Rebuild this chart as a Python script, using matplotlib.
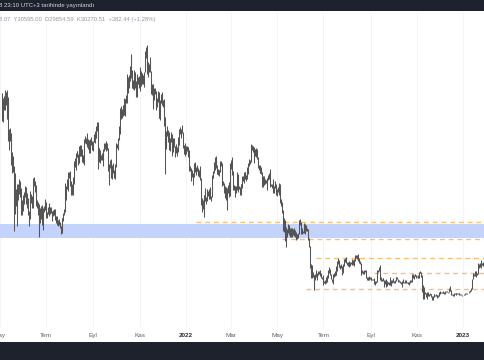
import pandas as pd
import matplotlib.pyplot as plt
from matplotlib.patches import Rectangle

# daily BTC high / low in thousand USD, one list per month
may21 = [(58.9,56.5),(57.3,53.0),(57.9,52.9),(58.3,55.3),(58.6,55.4),(59.5,56.9),(59.2,56.3),(59.6,53.4),(56.9,54.4),(58.0,48.8),
         (51.4,46.9),(51.5,48.8),(50.6,46.6),(49.8,43.8),(46.6,42.1),(45.8,42.3),(43.5,30.0),(42.5,35.0),(42.2,33.5),(38.8,35.3),
         (38.3,31.1),(39.9,34.0),(39.8,36.4),(40.8,37.8),(40.4,37.2),(38.9,34.7),(37.3,33.4),(36.4,33.4),(37.5,34.2)]
jun21 = [(37.9,35.7),(38.2,35.9),(39.5,37.2),(39.2,35.6),(37.9,34.8),(36.4,35.3),(36.8,33.4),(34.1,31.0),(37.5,32.4),(38.4,35.8),
         (37.7,35.9),(37.4,34.7),(39.3,34.8),(41.0,38.8),(41.3,39.5),(40.5,38.1),(39.6,37.4),(38.2,35.2),(36.4,34.9),(36.1,33.4),
         (35.7,31.3),(33.3,28.8),(34.8,31.7),(35.2,32.4),(35.5,31.3),(32.7,30.2),(34.7,32.0),(35.3,33.9),(36.6,34.3),(36.0,34.0)]
jul21 = [(35.0,32.8),(33.9,32.7),(35.0,33.6),(35.9,34.5),(35.3,33.2),(35.1,33.6),(35.0,33.8),(33.9,32.1),(34.1,32.3),(34.3,33.1),
         (34.6,33.4),(34.6,32.7),(33.3,32.3),(33.1,31.6),(33.2,31.2),(32.2,31.1),(31.9,31.2),(32.4,31.2),(31.9,30.5),(31.0,29.3),
         (32.8,29.5),(32.6,31.7),(33.7,32.0),(34.5,33.4),(35.4,33.9),(40.0,35.3),(39.5,36.4),(40.9,38.8),(40.6,39.3),(42.3,38.3),
         (42.4,41.1)]
aug21 = [(42.6,39.5),(40.4,38.7),(39.8,37.6),(39.9,37.6),(41.4,37.5),(43.0,39.9),(44.7,42.5),(45.3,43.4),(46.4,42.8),(46.7,45.4),
         (46.7,45.4),(46.2,43.8),(47.9,44.3),(48.1,45.8),(47.4,45.6),(48.0,45.7),(47.1,44.4),(45.9,44.3),(47.0,43.9),(49.3,46.7),
         (49.8,48.4),(49.5,48.2),(50.5,49.1),(49.8,47.6),(49.3,47.2),(49.0,46.4),(49.1,46.4),(49.3,48.4),(49.6,48.1),(48.9,46.9),
         (48.2,46.7)]
sep21 = [(48.9,46.9),(50.4,48.6),(51.0,48.5),(50.6,49.5),(51.9,49.5),(52.9,50.9),(52.8,43.0),(47.3,44.5),(47.4,45.5),(47.0,44.2),
         (45.9,44.8),(46.4,44.8),(46.8,43.6),(47.2,44.8),(48.4,46.8),(48.5,47.1),(48.1,46.8),(48.8,47.1),(48.4,46.9),(47.3,42.6),
         (43.6,39.6),(44.0,40.6),(44.9,43.1),(45.0,41.0),(42.9,41.7),(43.9,40.8),(44.3,42.1),(42.7,41.0),(42.6,40.8),(44.1,41.4)]
oct21 = [(48.4,43.3),(48.3,47.4),(49.2,47.1),(49.5,46.9),(51.9,49.0),(55.8,50.4),(55.3,53.4),(56.1,53.6),(55.5,53.7),(56.4,54.1),
         (57.8,54.4),(57.6,54.0),(57.7,54.3),(58.4,56.9),(62.8,56.9),(62.3,60.2),(61.7,58.9),(62.6,60.0),(64.5,61.4),(67.0,63.5),
         (66.6,62.0),(63.7,60.0),(61.7,59.7),(61.4,59.6),(63.7,60.7),(63.3,60.0),(61.4,58.1),(62.5,58.0),(62.9,60.2),(62.3,60.7),
         (62.4,60.0)]
nov21 = [(62.4,59.4),(64.3,60.8),(63.5,60.4),(63.1,60.7),(62.6,60.8),(61.6,60.1),(63.3,61.4),(67.8,63.3),(68.5,66.3),(69.0,62.8),
         (65.6,64.1),(65.5,62.3),(65.0,63.4),(65.5,63.6),(66.4,63.4),(63.6,58.6),(60.8,58.4),(60.9,56.5),(58.4,55.6),(59.9,57.5),
         (60.0,58.6),(59.3,55.7),(57.9,55.4),(57.8,55.9),(59.4,57.0),(59.2,53.6),(55.3,53.7),(57.4,53.3),(58.8,56.8),(59.2,56.5)]
dec21 = [(59.0,56.5),(57.4,55.9),(57.6,52.0),(53.9,42.0),(49.7,47.8),(50.9,47.1),(51.9,50.0),(51.2,48.6),(50.8,47.3),(50.0,47.0),
         (49.5,46.8),(50.8,48.6),(50.3,45.7),(48.7,46.3),(49.5,46.5),(49.4,47.6),(47.9,45.5),(47.4,45.9),(48.3,46.4),(47.5,45.6),
         (49.3,46.6),(49.6,48.4),(51.4,48.1),(51.8,50.4),(51.2,50.2),(51.3,49.5),(52.1,50.5),(50.7,47.3),(48.1,46.1),(47.9,46.0),
         (48.5,45.7)]
jan22 = [(47.8,46.2),(47.9,46.7),(47.5,45.7),(47.5,45.5),(47.0,42.5),(43.7,42.5),(43.1,40.6),(42.3,40.5),(42.8,41.2),(42.2,39.7),
         (43.0,41.3),(44.3,42.5),(44.4,42.3),(43.4,41.8),(43.8,42.6),(43.5,42.6),(43.2,41.6),(42.7,41.3),(42.6,41.2),(43.5,40.6),
         (41.1,35.5),(36.8,34.0),(36.5,34.6),(37.5,33.0),(37.5,36.2),(38.9,36.3),(37.2,35.6),(38.0,36.2),(38.7,37.4),(38.4,37.4),
         (38.7,36.6)]
feb22 = [(39.3,38.2),(38.9,36.6),(37.4,36.3),(41.7,37.0),(42.0,41.1),(42.6,41.1),(44.4,42.1),(45.5,42.7),(44.8,43.1),(45.8,43.3),
         (43.9,42.0),(43.0,41.8),(42.7,41.9),(42.8,41.6),(44.7,42.4),(44.6,43.5),(44.2,40.1),(40.9,39.5),(40.4,39.7),(40.1,38.0),
         (39.5,36.8),(38.4,36.4),(39.2,37.0),(38.9,34.3),(39.7,38.0),(40.3,38.6),(39.9,37.0),(44.2,37.4)]
mar22 = [(44.9,42.9),(45.4,43.3),(44.1,41.8),(42.5,38.6),(39.6,38.6),(39.4,38.1),(39.5,37.2),(39.4,37.9),(42.4,38.6),(42.0,38.6),
         (40.2,38.2),(39.4,38.7),(39.3,37.6),(39.9,37.6),(39.9,38.1),(41.5,38.9),(41.5,40.5),(42.3,40.1),(42.4,41.5),(42.3,40.9),
         (41.7,40.5),(43.4,40.9),(43.0,41.9),(44.2,42.6),(45.0,43.6),(44.8,44.1),(46.9,44.4),(48.2,46.6),(48.1,46.9),(47.7,46.6),
         (47.6,45.2)]
apr22 = [(46.7,44.2),(47.2,45.6),(47.4,45.5),(46.9,45.1),(47.2,45.4),(45.5,43.1),(43.9,42.8),(43.9,42.1),(42.8,42.1),(43.4,42.0),
         (42.4,39.2),(40.7,39.3),(41.5,39.6),(41.5,39.6),(40.9,39.8),(40.7,40.0),(40.6,39.6),(41.1,38.6),(41.7,40.6),(42.2,40.9),
         (43.0,39.8),(40.8,39.2),(39.9,39.4),(39.8,39.0),(40.6,38.2),(40.8,37.9),(39.5,37.9),(40.4,38.9),(39.9,38.2),(38.8,37.6)]
may22 = [(38.7,37.4),(39.2,38.1),(38.7,37.5),(40.0,37.7),(39.8,35.8),(36.7,35.3),(36.1,34.8),(35.5,33.7),(34.3,30.0),(32.6,29.8),
         (32.2,27.8),(30.1,26.7),(30.9,28.8),(30.3,28.7),(31.4,29.5),(31.3,29.2),(31.0,29.5),(30.6,28.7),(30.5,28.7),(30.7,28.8),
         (29.6,29.0),(30.4,29.2),(30.6,29.0),(29.8,28.7),(30.2,29.3),(29.8,28.0),(29.4,28.3),(29.2,28.5),(29.5,28.8),(32.2,29.3),
         (32.4,31.2)]
jun22 = [(31.9,29.4),(30.6,29.6),(30.7,29.4),(29.9,29.5),(30.1,29.5),(31.7,29.9),(31.5,29.3),(31.3,29.9),(30.6,29.9),(30.3,28.9),
         (29.4,28.1),(28.5,26.6),(26.9,22.3),(23.0,20.9),(22.8,20.1),(22.9,20.2),(21.3,20.3),(20.8,17.6),(20.8,18.0),(21.0,19.7),
         (21.7,20.4),(20.9,19.8),(21.2,19.9),(21.5,20.8),(21.6,20.9),(21.8,21.0),(21.5,20.5),(21.2,20.2),(20.4,19.9),(20.1,18.6)]
jul22 = [(20.8,19.0),(19.4,19.0),(19.6,18.9),(20.3,19.1),(20.7,19.3),(20.6,19.8),(21.8,20.2),(22.4,21.2),(21.9,21.3),(21.6,20.7),
         (20.9,19.9),(20.0,19.2),(20.3,18.9),(20.9,19.6),(21.2,20.4),(21.6,20.5),(21.6,20.8),(22.7,20.8),(23.7,21.6),(24.3,23.0),
         (23.4,22.4),(23.8,22.5),(22.9,21.9),(23.0,22.3),(22.7,21.3),(21.3,20.7),(23.1,21.1),(24.2,22.6),(24.4,23.5),(24.6,23.5),
         (24.2,23.2)]
aug22 = [(23.5,22.9),(23.4,22.7),(23.6,22.7),(23.2,22.4),(23.4,22.6),(23.4,23.1),(23.4,22.9),(24.2,23.2),(23.9,22.9),(24.2,22.7),
         (24.9,23.9),(24.4,23.6),(24.9,24.3),(25.0,24.2),(25.2,23.8),(24.2,23.7),(24.4,23.2),(23.6,23.1),(23.2,20.8),(21.4,20.8),
         (21.7,21.1),(21.5,20.9),(21.6,20.9),(21.8,21.1),(21.8,21.3),(21.8,20.1),(20.3,19.8),(20.1,19.6),(20.4,19.6),(20.6,19.6),
         (20.4,19.9)]
sep22 = [(20.2,19.6),(20.4,19.8),(19.9,19.7),(20.0,19.6),(20.0,19.6),(20.2,18.8),(19.4,18.6),(19.5,19.1),(21.5,19.3),(21.8,21.1),
         (21.8,21.4),(22.5,21.6),(22.8,19.9),(20.5,19.6),(20.3,19.5),(19.9,19.5),(20.2,19.7),(20.1,19.4),(19.6,18.2),(19.6,18.8),
         (19.9,18.2),(19.5,18.4),(19.5,18.6),(19.3,18.8),(19.2,18.6),(19.3,18.7),(20.3,19.1),(19.6,18.5),(19.6,19.0),(20.1,19.2)]
oct22 = [(19.5,19.2),(19.4,19.0),(19.7,19.0),(20.4,19.5),(20.4,19.8),(20.4,19.9),(20.0,19.3),(19.6,19.4),(19.5,19.3),(19.5,19.0),
         (19.2,18.9),(19.2,18.9),(19.5,18.2),(19.9,19.1),(19.2,19.0),(19.4,19.1),(19.6,19.2),(19.7,19.1),(19.3,19.0),(19.3,18.9),
         (19.2,18.7),(19.3,19.1),(19.7,19.1),(19.6,19.2),(20.4,19.3),(21.0,20.1),(20.9,20.2),(20.7,20.0),(21.0,20.6),(20.9,20.5),
         (20.8,20.2)]
nov22 = [(20.6,20.3),(20.8,20.1),(20.4,20.1),(21.3,20.2),(21.5,21.1),(21.4,20.9),(21.0,20.4),(20.7,17.2),(18.6,15.8),(18.2,15.8),
         (17.7,16.4),(17.1,16.7),(16.9,16.2),(17.2,15.8),(17.1,16.5),(17.0,16.4),(16.8,16.4),(17.0,16.6),(16.8,16.6),(16.8,16.2),
         (16.3,15.5),(16.3,15.6),(16.7,16.2),(16.8,16.5),(16.6,16.4),(16.7,16.4),(16.6,16.4),(16.5,16.0),(16.5,16.1),(17.2,16.4)]
dec22 = [(17.3,16.9),(17.1,16.8),(17.2,16.9),(17.2,16.9),(17.4,16.9),(17.1,16.9),(17.1,16.7),(17.3,16.7),(17.3,17.1),(17.2,17.1),
         (17.3,17.1),(17.2,16.9),(18.0,17.1),(18.4,17.7),(18.0,17.3),(17.5,16.6),(16.8,16.6),(16.8,16.7),(16.8,16.3),(17.0,16.4),
         (16.9,16.8),(16.9,16.6),(16.9,16.8),(16.9,16.8),(16.9,16.7),(16.9,16.8),(16.9,16.6),(16.8,16.5),(16.7,16.5),(16.6,16.4),
         (16.6,16.5)]
jan23 = [(16.6,16.5),(16.8,16.6),(16.8,16.6),(17.0,16.7),(16.9,16.8),(17.0,16.7),(17.0,16.9),(17.2,16.9),(17.4,17.1),(17.5,17.1),
         (18.0,17.3),(19.0,17.9),(19.9,18.7),(21.2,19.9),(21.0,20.6),(21.4,20.6),(21.6,20.9),(21.6,20.4),(21.2,20.7),(22.7,20.9),
         (23.3,22.4),(23.0,22.3),(23.2,22.5),(23.1,22.5),(23.8,22.3),(23.3,22.9),(23.5,22.6),(23.2,22.9),(24.0,23.0),(23.8,22.6),
         (23.3,22.8)]

months = [("2021-05-03", may21), ("2021-06-01", jun21), ("2021-07-01", jul21), ("2021-08-01", aug21),
          ("2021-09-01", sep21), ("2021-10-01", oct21), ("2021-11-01", nov21), ("2021-12-01", dec21),
          ("2022-01-01", jan22), ("2022-02-01", feb22), ("2022-03-01", mar22), ("2022-04-01", apr22),
          ("2022-05-01", may22), ("2022-06-01", jun22), ("2022-07-01", jul22), ("2022-08-01", aug22),
          ("2022-09-01", sep22), ("2022-10-01", oct22), ("2022-11-01", nov22), ("2022-12-01", dec22),
          ("2023-01-01", jan23)]

# drawn levels (thousand USD) and the day each dashed line starts
band_low, band_high = 28.5, 31.45
level_values = [31.9, 28.3, 24.4, 21.2, 17.9]
level_starts = ["2022-01-14", "2022-05-07", "2022-06-21", "2022-09-05", "2022-06-08"]

tick_dates = ["2021-05-01", "2021-07-01", "2021-09-01", "2021-11-01", "2022-01-01", "2022-03-01",
              "2022-05-01", "2022-07-01", "2022-09-01", "2022-11-01", "2023-01-01"]
tick_labels = ["May", "Tem", "Eyl", "Kas", "2022", "Mar", "May", "Tem", "Eyl", "Kas", "2023"]

header_text = "8 23:10 UTC+3 tarihinde yayınlandı"
ohlc_text = "8.07  Y30595.00  D29854.59  K30270.51  +382.44 (+1.28%)"

# build the daily series
dates, highs, lows = [], [], []
for start, rows in months:
    d0 = pd.Timestamp(start)
    for i, (h, l) in enumerate(rows):
        dates.append(d0 + pd.Timedelta(days=i))
        highs.append(h)
        lows.append(l)

plt.rcParams['font.family'] = ['Liberation Sans', 'DejaVu Sans']

W, H = 485, 360
fig = plt.figure(figsize=(W / 100, H / 100), dpi=100)
fig.patch.set_facecolor('white')
ax = fig.add_axes([0, (H - 327) / H, 1, (327 - 12) / H])

x_left = pd.Timestamp("2021-05-07 10:00")
x_right = pd.Timestamp("2023-01-29 17:00")
ax.set_xlim(x_left, x_right)
ax.set_ylim(9.84, 75.9)

# faint vertical grid at the month labels
for td in tick_dates:
    ax.axvline(pd.Timestamp(td), color='#f3f4f7', lw=0.7, zorder=0)

ax.axhspan(band_low, band_high, color='#c3d3fb', lw=0, zorder=1)

for lv, st in zip(level_values, level_starts):
    ax.hlines(lv, pd.Timestamp(st), x_right, colors='#f5b96a', lw=1.0,
              linestyles=(0, (3.5, 2.8)), zorder=2, alpha=0.9)

ax.vlines(dates, lows, highs, colors='#555555', lw=0.75, zorder=3)

for s in ax.spines.values():
    s.set_visible(False)
ax.set_yticks([])
ax.set_xticks([pd.Timestamp(t) for t in tick_dates])
ax.set_xticklabels(tick_labels)
ax.tick_params(axis='x', length=0, pad=4.5, labelsize=4.6, labelcolor='#5d606b')
for lab in ax.get_xticklabels():
    if lab.get_text().isdigit():
        lab.set_fontweight('bold')
        lab.set_color('#2a2e39')

# dark bars top and bottom
fig.add_artist(Rectangle((0, 1 - 11 / H), 1, 11 / H, transform=fig.transFigure,
                         facecolor='#1e222d', edgecolor='none', zorder=5))
fig.add_artist(Rectangle((0, 0), 1, 18 / H, transform=fig.transFigure,
                         facecolor='#1e222d', edgecolor='none', zorder=5))
fig.text(-1 / W, 1 - 6 / H, header_text, color='#d1d4dc', fontsize=4.3,
         va='center', ha='left', zorder=6)
fig.text(-1 / W, 1 - 20 / H, ohlc_text, color='#9598a1', fontsize=4.2,
         va='center', ha='left', zorder=6)

fig.savefig('out.png', dpi=100, facecolor='white')
